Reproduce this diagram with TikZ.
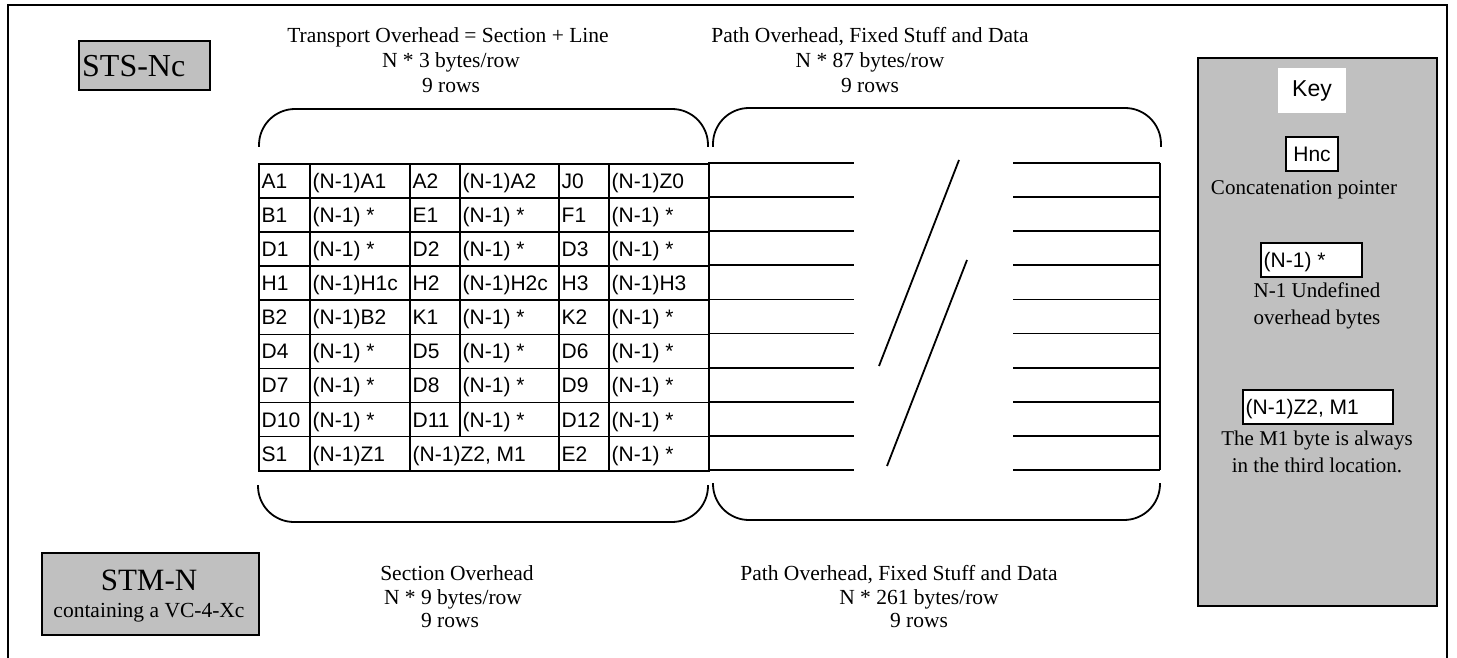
\documentclass[tikz,border=0pt]{standalone}
\usepackage{fontspec}
\setmainfont{Liberation Serif}
\newfontfamily\arialf{Liberation Sans}
\definecolor{keygray}{HTML}{C0C0C0}
\newcommand{\tcell}[6]{%
  \node[cellbox, minimum width=#4pt, minimum height=#5pt, anchor=north west] (#1) at (#2,#3) {};
  \node[celltext, anchor=west] (#1t) at (#1.west) {#6};}
\begin{document}
\begin{tikzpicture}[x=1pt,y=-1pt,
  cellbox/.style={draw, line width=1.6pt, inner sep=0pt},
  celltext/.style={font=\arialf\fontsize{21}{24}\selectfont, inner xsep=3.5pt, inner ysep=0pt, text height=16pt, text depth=1pt},
  ttext/.style={font=\fontsize{21.5}{25}\selectfont, inner sep=0pt, text height=15pt, text depth=0pt},
  ktext/.style={font=\fontsize{21}{25}\selectfont, inner sep=0pt, text height=15pt, text depth=0pt},
  brace/.style={line width=1.8pt, rounded corners=36pt},
  rowline/.style={line width=1.8pt},
  graybox/.style={draw, line width=1.8pt, fill=keygray, inner sep=0pt},
  whitebox/.style={draw, line width=1.8pt, fill=white, inner sep=0pt}]
\useasboundingbox (0,0) rectangle (1457,658);
% frame
\draw[line width=2.4pt] (8,670) -- (8,5) -- (1447,5) -- (1447,670);
% STS-Nc box
\node[graybox, minimum width=131pt, minimum height=49pt, anchor=north west] (sts) at (78,40) {};
\node[anchor=west, inner xsep=4pt, inner ysep=0pt, text height=22pt, text depth=0pt, font=\fontsize{32}{36}\selectfont] (ststxt) at (sts.west) {STS-Nc};
% top texts
\node[ttext] (to1) at (448,35) {Transport Overhead = Section + Line};
\node[ttext] (to2) at (451,60) {N * 3 bytes/row};
\node[ttext] (to3) at (451,85) {9 rows};
\node[ttext] (po1) at (870,35) {Path Overhead, Fixed Stuff and Data};
\node[ttext] (po2) at (870,60) {N * 87 bytes/row};
\node[ttext] (po3) at (870,85) {9 rows};
% braces
\draw[brace] (259,147) -- (259,109) -- (708,109) -- (708,147);
\draw[brace] (713,147) -- (713,108) -- (1161,108) -- (1161,147);
\draw[brace] (258,485) -- (258,522) -- (708,522) -- (708,485);
\draw[brace] (713,483) -- (713,520) -- (1160,520) -- (1160,483);
% table
\tcell{a11}{258}{163}{51}{34.1}{A1}
\tcell{a12}{309}{163}{100}{34.1}{(N-1)A1}
\tcell{a13}{409}{163}{50}{34.1}{A2}
\tcell{a14}{459}{163}{99}{34.1}{(N-1)A2}
\tcell{a15}{558}{163}{50}{34.1}{J0}
\tcell{a16}{608}{163}{100}{34.1}{(N-1)Z0}
\tcell{a21}{258}{197.1}{51}{34.1}{B1}
\tcell{a22}{309}{197.1}{100}{34.1}{(N-1) *}
\tcell{a23}{409}{197.1}{50}{34.1}{E1}
\tcell{a24}{459}{197.1}{99}{34.1}{(N-1) *}
\tcell{a25}{558}{197.1}{50}{34.1}{F1}
\tcell{a26}{608}{197.1}{100}{34.1}{(N-1) *}
\tcell{a31}{258}{231.2}{51}{34.1}{D1}
\tcell{a32}{309}{231.2}{100}{34.1}{(N-1) *}
\tcell{a33}{409}{231.2}{50}{34.1}{D2}
\tcell{a34}{459}{231.2}{99}{34.1}{(N-1) *}
\tcell{a35}{558}{231.2}{50}{34.1}{D3}
\tcell{a36}{608}{231.2}{100}{34.1}{(N-1) *}
\tcell{a41}{258}{265.3}{51}{34.1}{H1}
\tcell{a42}{309}{265.3}{100}{34.1}{(N-1)H1c}
\tcell{a43}{409}{265.3}{50}{34.1}{H2}
\tcell{a44}{459}{265.3}{99}{34.1}{(N-1)H2c}
\tcell{a45}{558}{265.3}{50}{34.1}{H3}
\tcell{a46}{608}{265.3}{100}{34.1}{(N-1)H3}
\tcell{a51}{258}{299.4}{51}{34.1}{B2}
\tcell{a52}{309}{299.4}{100}{34.1}{(N-1)B2}
\tcell{a53}{409}{299.4}{50}{34.1}{K1}
\tcell{a54}{459}{299.4}{99}{34.1}{(N-1) *}
\tcell{a55}{558}{299.4}{50}{34.1}{K2}
\tcell{a56}{608}{299.4}{100}{34.1}{(N-1) *}
\tcell{a61}{258}{333.5}{51}{34.1}{D4}
\tcell{a62}{309}{333.5}{100}{34.1}{(N-1) *}
\tcell{a63}{409}{333.5}{50}{34.1}{D5}
\tcell{a64}{459}{333.5}{99}{34.1}{(N-1) *}
\tcell{a65}{558}{333.5}{50}{34.1}{D6}
\tcell{a66}{608}{333.5}{100}{34.1}{(N-1) *}
\tcell{a71}{258}{367.6}{51}{34.1}{D7}
\tcell{a72}{309}{367.6}{100}{34.1}{(N-1) *}
\tcell{a73}{409}{367.6}{50}{34.1}{D8}
\tcell{a74}{459}{367.6}{99}{34.1}{(N-1) *}
\tcell{a75}{558}{367.6}{50}{34.1}{D9}
\tcell{a76}{608}{367.6}{100}{34.1}{(N-1) *}
\tcell{a81}{258}{401.7}{51}{34.1}{D10}
\tcell{a82}{309}{401.7}{100}{34.1}{(N-1) *}
\tcell{a83}{409}{401.7}{50}{34.1}{D11}
\tcell{a84}{459}{401.7}{99}{34.1}{(N-1) *}
\tcell{a85}{558}{401.7}{50}{34.1}{D12}
\tcell{a86}{608}{401.7}{100}{34.1}{(N-1) *}
\tcell{a91}{258}{435.8}{51}{34.1}{S1}
\tcell{a92}{309}{435.8}{100}{34.1}{(N-1)Z1}
\tcell{a93}{409}{435.8}{149}{34.1}{(N-1)Z2, M1}
\tcell{a95}{558}{435.8}{50}{34.1}{E2}
\tcell{a96}{608}{435.8}{100}{34.1}{(N-1) *}
% extension lines
\foreach \i in {0,...,9}{
  \draw[rowline] (708,163+34.1*\i) -- (854,163+34.1*\i);
  \draw[rowline] (1013,163+34.1*\i) -- (1160,163+34.1*\i);
}
\draw[rowline] (1160,163) -- (1160,470);
% break slashes
\draw[line width=1.8pt] (959,160) -- (879,366);
\draw[line width=1.8pt] (967,260) -- (887,466);
% STM-N box
\node[graybox, minimum width=217pt, minimum height=82pt, anchor=north west] (stm) at (41,552) {};
\node[font=\fontsize{31}{34}\selectfont, inner sep=0pt, text height=21pt, text depth=0pt] (stm1) at (149,580) {STM-N};
\node[font=\fontsize{21.5}{25}\selectfont, inner sep=0pt, text height=15pt, text depth=0pt] (stm2) at (149,610) {containing a VC-4-Xc};
% bottom texts
\node[ttext] (so1) at (457,573) {Section Overhead};
\node[ttext] (so2) at (453,597) {N * 9 bytes/row};
\node[ttext] (so3) at (450,620) {9 rows};
\node[ttext] (bp1) at (899,573) {Path Overhead, Fixed Stuff and Data};
\node[ttext] (bp2) at (919,597) {N * 261 bytes/row};
\node[ttext] (bp3) at (919,620) {9 rows};
% key
\node[graybox, minimum width=239pt, minimum height=548pt, anchor=north west] (key) at (1197,57) {};
\node[fill=white, minimum width=68pt, minimum height=45pt, inner sep=0pt, font=\arialf\fontsize{23}{26}\selectfont] (keyt) at (1312,90.5) {Key};
\node[whitebox, minimum width=52pt, minimum height=34pt, font=\arialf\fontsize{21}{24}\selectfont, text height=16pt, text depth=1pt] (hnc) at (1312,154) {Hnc};
\node[ktext] (hncd) at (1304,187) {Concatenation pointer};
\node[whitebox, minimum width=101pt, minimum height=34pt, anchor=north west] (nb) at (1260,242) {};
\node[celltext, anchor=west] (nbt) at (nb.west) {(N-1) *};
\node[ktext] (nbd1) at (1317,290) {N-1 Undefined};
\node[ktext] (nbd2) at (1317,317) {overhead bytes};
\node[whitebox, minimum width=150pt, minimum height=34pt, anchor=north west] (zb) at (1242,389) {};
\node[celltext, anchor=west] (zbt) at (zb.west) {(N-1)Z2, M1};
\node[ktext] (zbd1) at (1317,438) {The M1 byte is always};
\node[ktext] (zbd2) at (1317,465) {in the third location.};
\end{tikzpicture}
\end{document}
